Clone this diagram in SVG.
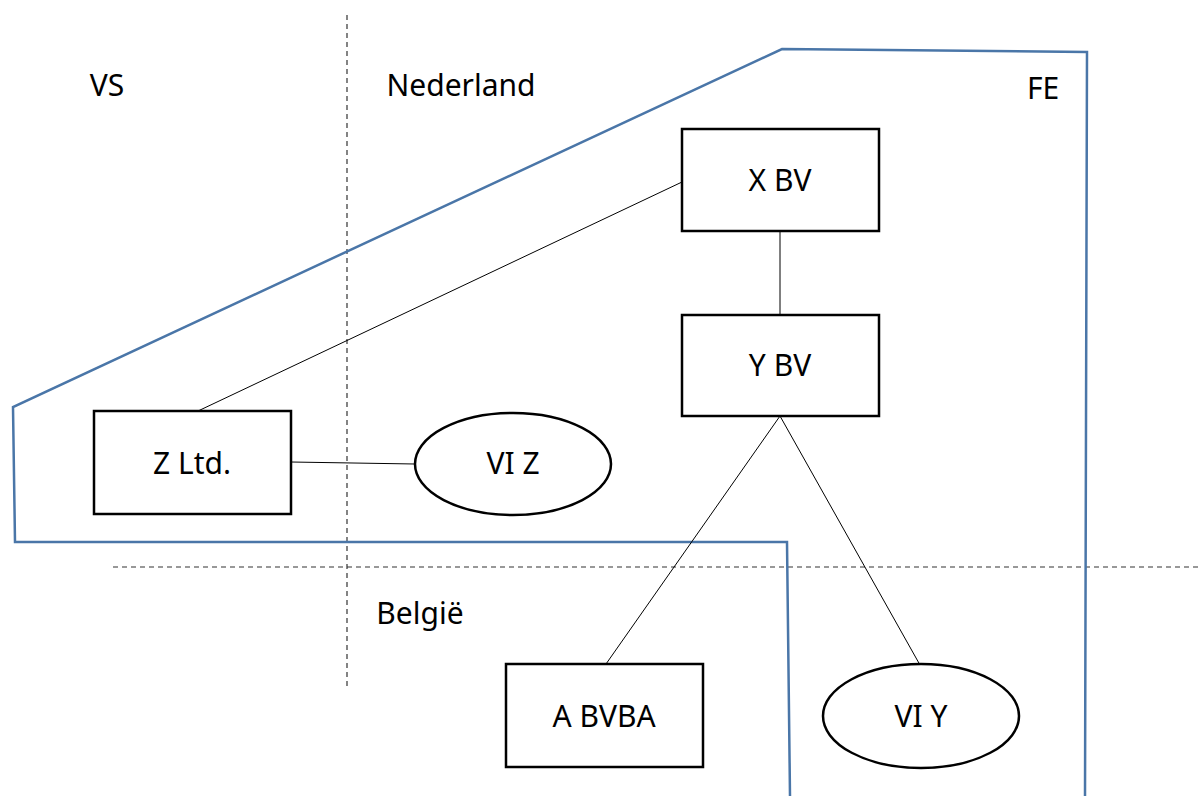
<svg xmlns="http://www.w3.org/2000/svg" width="1198" height="796" viewBox="0 0 1198 796">
<style>
text{font-family:"Noto Sans","DejaVu Sans",sans-serif;font-size:30px;fill:#000;text-anchor:middle;dominant-baseline:central}
.box{fill:#fff;stroke:#000;stroke-width:2.5}
.con{stroke:#000;stroke-width:1;fill:none}
.dash{stroke:#333;stroke-width:1.2;stroke-dasharray:5,4;fill:none}
.fe{stroke:#4a76a8;stroke-width:2.5;fill:none}
</style>
<rect width="1198" height="796" fill="#fff"/>
<g id="borders">
<line class="dash" x1="347" y1="15" x2="347" y2="690"/>
<line class="dash" x1="113" y1="567" x2="1198" y2="567"/>
<path class="fe" d="M790,796 L787,542 L15,542 L13,407 L782,49 L1087,52 L1085,796"/>
</g>
<g id="regions">
<text x="107" y="84">VS</text>
<text x="461" y="84">Nederland</text>
<text x="1043" y="87">FE</text>
<text x="420" y="612">België</text>
</g>
<g id="connectors">
<line class="con" x1="198" y1="411" x2="682" y2="182"/>
<line class="con" x1="291" y1="462" x2="415" y2="464"/>
<line class="con" x1="780" y1="231" x2="780" y2="315"/>
<line class="con" x1="780" y1="416" x2="606" y2="664"/>
<line class="con" x1="780" y1="416" x2="920" y2="665"/>
</g>
<g id="xbv"><rect class="box" x="682" y="129" width="197" height="102"/><text x="780" y="179">X BV</text></g>
<g id="ybv"><rect class="box" x="682" y="315" width="197" height="101"/><text x="780" y="364">Y BV</text></g>
<g id="zltd"><rect class="box" x="94" y="411" width="197" height="103"/><text x="192" y="462">Z Ltd.</text></g>
<g id="viz"><ellipse class="box" cx="513" cy="464" rx="98" ry="51"/><text x="513" y="462">VI Z</text></g>
<g id="abvba"><rect class="box" x="506" y="664" width="197" height="103"/><text x="604" y="715">A BVBA</text></g>
<g id="viy"><ellipse class="box" cx="921" cy="716" rx="98" ry="52"/><text x="921" y="715">VI Y</text></g>
</svg>
